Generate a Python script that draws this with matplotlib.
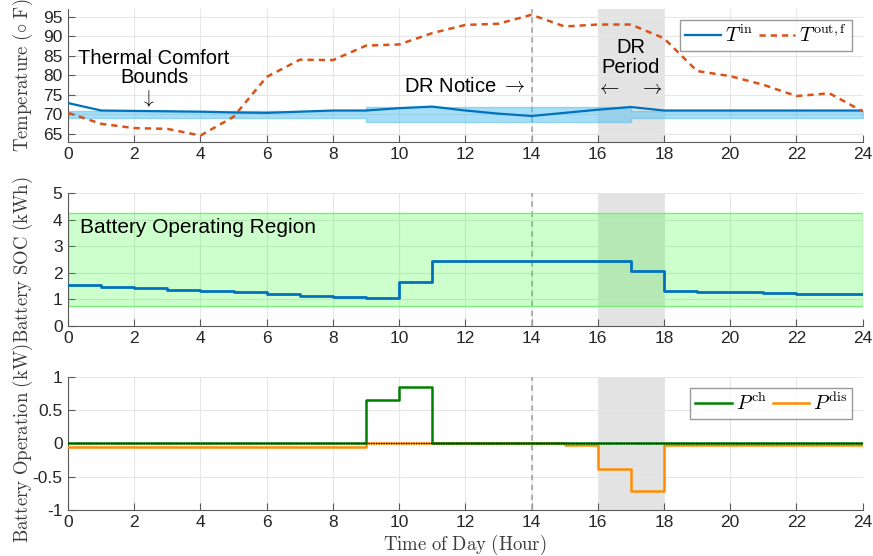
import numpy as np
import matplotlib
matplotlib.use("Agg")
import matplotlib.pyplot as plt

plt.rcParams['font.family'] = ['Liberation Sans', 'DejaVu Sans']
plt.rcParams['mathtext.fontset'] = 'cm'

# data
hours = np.arange(0, 25)
t_in = [72.9, 71.0, 70.9, 70.8, 70.7, 70.5, 70.4, 70.7, 71.0, 71.0, 71.6, 72.0, 71.0,
        70.2, 69.6, 70.4, 71.2, 71.9, 71.0, 71.0, 71.0, 71.0, 71.0, 71.0, 71.0]
t_out = [70.4, 67.6, 66.5, 66.3, 64.6, 69.4, 79.6, 84.0, 83.9, 87.6, 87.9, 90.8, 92.9,
         93.2, 95.5, 92.5, 93.0, 93.0, 89.5, 81.1, 79.8, 77.6, 74.7, 75.4, 70.8]
comfort_lo = [69]*9 + [68]*8 + [69]*8
comfort_hi = [71]*9 + [72]*8 + [71]*8

soc = [1.52, 1.46, 1.41, 1.36, 1.31, 1.26, 1.21, 1.14, 1.09, 1.04, 1.66, 2.45, 2.45,
       2.45, 2.45, 2.45, 2.44, 2.06, 1.32, 1.28, 1.26, 1.23, 1.21, 1.18]
soc_min, soc_max = 0.75, 4.25

p_ch = [0]*9 + [0.65, 0.85] + [0]*13
p_dis = [-0.05]*9 + [0]*6 + [-0.02, -0.38, -0.71] + [-0.03]*6

def steps(v):
    return list(v) + [v[-1]]

fig = plt.figure(figsize=(8.73, 5.56), dpi=100)
L, W = 0.078, 0.910
ax1 = fig.add_axes([L, 0.745, W, 0.239])
ax2 = fig.add_axes([L, 0.414, W, 0.239])
ax3 = fig.add_axes([L, 0.083, W, 0.239])

for ax in (ax1, ax2, ax3):
    ax.axvspan(16, 18, color='#e3e3e3', zorder=0, lw=0)
    ax.axvline(14, color='#aaaaaa', ls=(0, (3, 2.5)), lw=1.3, zorder=1)
    ax.set_xlim(0, 24)
    ax.set_xticks(range(0, 25, 2))
    ax.grid(True, color='#e6e6e6', lw=0.8, zorder=0.5)
    ax.set_axisbelow(True)
    for s in ('top', 'right'):
        ax.spines[s].set_visible(False)
    for s in ('left', 'bottom'):
        ax.spines[s].set_color('#5a5a5a')
    ax.tick_params(direction='in', length=5, colors='#262626', labelsize=12.5,
                   color='#5a5a5a', pad=4)

leg_kw = dict(loc='upper right', ncol=2, fontsize=14.5, frameon=True, fancybox=False,
              edgecolor='#808080', handlelength=1.8, columnspacing=0.3,
              handletextpad=0.2, borderpad=0.25, borderaxespad=0)

# top: temperature
ax1.fill_between(hours, comfort_lo, comfort_hi, step='post', color='#4DBEEE',
                 alpha=0.5, lw=1, edgecolor='#4DBEEE', zorder=2)
ax1.plot(hours, t_in, color='#0072BD', lw=1.6, label=r'$T^{\rm in}$', zorder=3)
ax1.plot(hours, t_out, color='#D95319', lw=1.8, ls=(0, (2.5, 2)),
         label=r'$T^{\rm out,f}$', zorder=3)
ax1.set_ylim(63, 97)
ax1.set_yticks(range(65, 96, 5))
ax1.set_ylabel(r'$\mathrm{Temperature}\ (\circ\ \mathrm{F})$', fontsize=13.5, color='#3c3c3c')
ax1.legend(bbox_to_anchor=(0.987, 0.92), **leg_kw)
ax1.text(2.6, 82.0, 'Thermal Comfort\nBounds', ha='center', va='center',
         fontsize=14.5, linespacing=1.0)
ax1.text(2.4, 74.0, r'$\downarrow$', ha='center', va='center', fontsize=14)
ax1.text(12.0, 77.2, r'DR Notice $\rightarrow$', ha='center', va='center',
         fontsize=14.5)
ax1.text(17.0, 84.6, 'DR\nPeriod', ha='center', va='center', fontsize=14.5,
         linespacing=1.05)
ax1.text(16.3, 76.5, r'$\leftarrow$', ha='center', va='center', fontsize=14)
ax1.text(17.6, 76.5, r'$\rightarrow$', ha='center', va='center', fontsize=14)

# middle: SOC
ax2.fill_between([0, 24], soc_min, soc_max, color='#00ff00', alpha=0.2,
                 lw=0, zorder=1.5)
ax2.plot([0, 24, 24, 0, 0], [soc_min, soc_min, soc_max, soc_max, soc_min],
         color='#77ee77', lw=1, zorder=1.6)
ax2.step(hours, steps(soc), where='post', color='#0072BD', lw=2, zorder=3)
ax2.set_ylim(0, 5)
ax2.set_yticks(range(0, 6))
ax2.set_ylabel(r'$\mathrm{Battery\ SOC\ (kWh)}$', fontsize=13.5, color='#3c3c3c')
ax2.text(0.35, 3.7, 'Battery Operating Region', ha='left', va='center', fontsize=15)

# bottom: battery operation
ax3.step(hours, steps(p_ch), where='post', color='#008000', lw=1.8,
         label=r'$P^{\rm ch}$', zorder=3)
ax3.step(hours, steps(p_dis), where='post', color='#FF8C00', lw=1.8,
         label=r'$P^{\rm dis}$', zorder=2.9)
ax3.axhline(0, color='black', ls=(0, (1, 1)), lw=0.9, zorder=3.5)
ax3.set_ylim(-1, 1)
ax3.set_yticks([-1, -0.5, 0, 0.5, 1])
ax3.set_yticklabels(['-1', '-0.5', '0', '0.5', '1'])
ax3.set_ylabel(r'$\mathrm{Battery\ Operation\ (kW)}$', fontsize=13.5, color='#3c3c3c')
ax3.set_xlabel(r'$\mathrm{Time\ of\ Day\ (Hour)}$', fontsize=13.5, color='#3c3c3c',
               labelpad=2)
ax3.legend(bbox_to_anchor=(0.987, 0.92), **leg_kw)

for ax in (ax1, ax2, ax3):
    ax.yaxis.set_label_coords(-0.042, 0.5)

fig.savefig('out.png', dpi=100)
